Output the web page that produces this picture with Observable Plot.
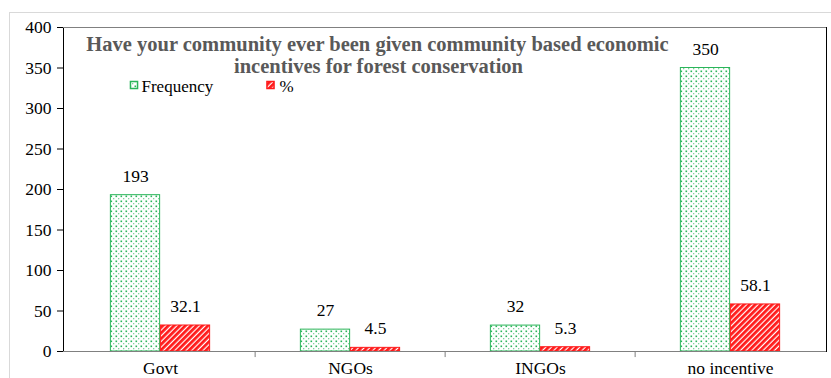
<!DOCTYPE html>
<html>
<head>
<meta charset="utf-8">
<script src="https://cdn.jsdelivr.net/npm/d3@7"></script>
<script src="https://cdn.jsdelivr.net/npm/@observablehq/plot@0.6"></script>
<style>
  html, body { margin: 0; padding: 0; background: white; }
  #wrap { position: relative; width: 831px; height: 378px; overflow: hidden; }
  #outer { position: absolute; left: 9px; top: 12px; width: 840px; height: 400px; border: 1px solid #d9d9d9; box-sizing: border-box; }
  #chart { position: absolute; left: 0; top: 0; }
  #chart svg, #chart svg text { font-family: "Liberation Serif", "Times New Roman", serif !important; }
</style>
</head>
<body>
<div id="wrap"><div id="outer"></div><div id="chart"></div></div>
<script>
const categories = ["Govt", "NGOs", "INGOs", "no incentive"];
const frequency = [193, 27, 32, 350];
const percent = [32.1, 4.5, 5.3, 58.1];
const seriesNames = ["Frequency", "%"];
const yTicks = [0, 50, 100, 150, 200, 250, 300, 350, 400];
const titleLines = ["Have your community ever been given community based economic", "incentives for forest conservation"];

const W = 831, H = 378;
const mL = 63, mR = 5, mT = 27, mB = 27;
const band = (W - mL - mR) / categories.length;
const barW = 50;

const rows = [];
categories.forEach((c, i) => {
  rows.push({cat: c, series: seriesNames[0], value: frequency[i]});
  rows.push({cat: c, series: seriesNames[1], value: percent[i]});
});
const freqRows = rows.filter(d => d.series === seriesNames[0]);
const pctRows = rows.filter(d => d.series === seriesNames[1]);

const green = "#2bb55a";
const red = "#ff1a1a";
const serif = "Liberation Serif";

const chart = Plot.plot({
  width: W, height: H,
  marginLeft: mL, marginRight: mR, marginTop: mT, marginBottom: mB,
  style: {fontFamily: serif, fontSize: "17.5px", background: "transparent", color: "black"},
  x: {domain: categories, padding: 0, tickSize: 0, tickPadding: 10, label: null},
  y: {domain: [0, 400], ticks: yTicks, tickSize: 6, tickPadding: 6, label: null, tickFormat: d => String(d)},
  marks: [
    Plot.barY(freqRows, {x: "cat", y: "value", fill: "url(#dotsPat)", stroke: green, strokeWidth: 1,
      insetLeft: band / 2 - barW, insetRight: band / 2}),
    Plot.barY(pctRows, {x: "cat", y: "value", fill: "url(#hatchPat)", stroke: red, strokeWidth: 1,
      insetLeft: band / 2, insetRight: band / 2 - barW}),
    Plot.text(freqRows, {x: "cat", y: "value", text: d => String(d.value), dx: -barW / 2, dy: -19, fontSize: 17.5, fill: "black"}),
    Plot.text(pctRows, {x: "cat", y: "value", text: d => String(d.value), dx: barW / 2, dy: -19, fontSize: 17.5, fill: "black"}),
    Plot.frame({stroke: "black"}),
    Plot.ruleY([0, 400], {stroke: "#808080"}),
    Plot.ruleX(categories.slice(1), {x: d => d, y1: 0, y2: -7.5, dx: -band / 2, stroke: "#7f7f7f", clip: false}),
    Plot.text([titleLines[0]], {frameAnchor: "top-left", dx: 377 - mL, dy: 44 - mT, text: d => d, textAnchor: "middle", lineAnchor: "middle",
      fontWeight: "bold", fontSize: 20.5, fill: "#595959"}),
    Plot.text([titleLines[1]], {frameAnchor: "top-left", dx: 378 - mL, dy: 65.5 - mT, text: d => d, textAnchor: "middle", lineAnchor: "middle",
      fontWeight: "bold", fontSize: 20.5, fill: "#595959"}),
    Plot.dot([seriesNames[0]], {frameAnchor: "top-left", dx: 133.5 - mL, dy: 84.5 - mT, symbol: "square", r: 4,
      fill: "url(#dotsPat)", stroke: green}),
    Plot.text([seriesNames[0]], {frameAnchor: "top-left", dx: 141 - mL, dy: 86 - mT, text: d => d, textAnchor: "start", lineAnchor: "middle", fontSize: 17}),
    Plot.dot([seriesNames[1]], {frameAnchor: "top-left", dx: 270 - mL, dy: 84.5 - mT, symbol: "square", r: 4,
      fill: "url(#hatchPat)", stroke: red}),
    Plot.text([seriesNames[1]], {frameAnchor: "top-left", dx: 279 - mL, dy: 86 - mT, text: d => d, textAnchor: "start", lineAnchor: "middle", fontSize: 17})
  ]
});

const ns = "http://www.w3.org/2000/svg";
const defs = document.createElementNS(ns, "defs");
defs.innerHTML = `
  <pattern id="dotsPat" patternUnits="userSpaceOnUse" width="5" height="5">
    <rect width="5" height="5" fill="white"/>
    <rect x="0.5" y="0.5" width="1.6" height="1.6" fill="${green}"/>
    <rect x="3" y="3" width="1.3" height="1.3" fill="${green}" opacity="0.6"/>
  </pattern>
  <pattern id="hatchPat" patternUnits="userSpaceOnUse" width="4" height="4" patternTransform="rotate(45)">
    <rect width="4" height="4" fill="white"/>
    <rect x="0" y="0" width="2.8" height="4" fill="${red}"/>
  </pattern>`;
chart.insertBefore(defs, chart.firstChild);
document.getElementById("chart").appendChild(chart);
</script>
</body>
</html>
